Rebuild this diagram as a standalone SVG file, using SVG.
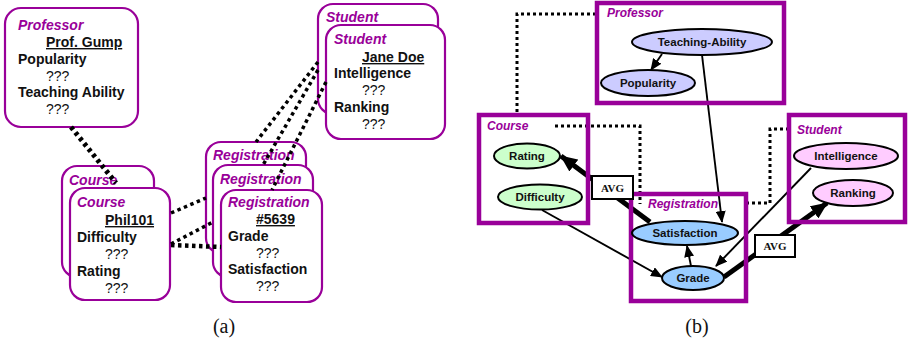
<svg xmlns="http://www.w3.org/2000/svg" width="909" height="341" viewBox="0 0 909 341">
<defs>
<style>
.box{fill:#fff;stroke:#990099;stroke-width:2.2}
.frame{fill:none;stroke:#990099;stroke-width:4.5}
.ttl{font-family:"Liberation Sans",Arial,sans-serif;font-weight:bold;font-style:italic;font-size:14px;fill:#990099}
.ttlb{font-family:"Liberation Sans",Arial,sans-serif;font-weight:bold;font-style:italic;font-size:12px;fill:#990099}
.att{font-family:"Liberation Sans",Arial,sans-serif;font-weight:bold;font-size:14px;fill:#111}
.val{font-family:"Liberation Sans",Arial,sans-serif;font-size:14px;fill:#111}
.und{text-decoration:underline}
.dot{fill:none;stroke:#000;stroke-width:3.5;stroke-dasharray:3.5 3.5}
.dotb{fill:none;stroke:#000;stroke-width:3;stroke-dasharray:3 3}
.ell{stroke:#000;stroke-width:2}
.et{font-family:"Liberation Sans",Arial,sans-serif;font-weight:bold;font-size:11.5px;fill:#111;text-anchor:middle}
.arr{fill:none;stroke:#000;stroke-width:1.9}
.thick{fill:none;stroke:#000;stroke-width:5}
.avg{fill:#fff;stroke:#000;stroke-width:2}
.avgt{font-family:"Liberation Serif","Times New Roman",serif;font-weight:bold;font-size:11px;fill:#111;text-anchor:middle}
.cap{font-family:"Liberation Serif","Times New Roman",serif;font-size:20px;fill:#111;text-anchor:middle}
</style>
<marker id="ah" markerUnits="userSpaceOnUse" markerWidth="12" markerHeight="10" refX="11" refY="5" orient="auto">
<path d="M0,0 L12,5 L0,10 z" fill="#000"/>
</marker>
<marker id="ahb" markerUnits="userSpaceOnUse" markerWidth="17" markerHeight="15" refX="16" refY="7.5" orient="auto">
<path d="M0,0 L17,7.5 L0,15 z" fill="#000"/>
</marker>
</defs>
<rect width="909" height="341" fill="#fff"/>

<!-- (a) -->
<g id="a-professor">
<rect class="box" x="5" y="8" width="133" height="119" rx="16"/>
<text class="ttl" x="18" y="30">Professor</text>
<text class="att und" x="46" y="47">Prof. Gump</text>
<text class="att" x="18" y="64">Popularity</text>
<text class="val" x="46" y="81">???</text>
<text class="att" x="18" y="97">Teaching Ability</text>
<text class="val" x="46" y="114">???</text>
</g>
<g id="a-course-back">
<rect class="box" x="62" y="166" width="92" height="111" rx="15"/>
<text class="ttl" x="69" y="185">Course</text>
</g>
<g id="a-course">
<rect class="box" x="70" y="188" width="100" height="112" rx="15"/>
<text class="ttl" x="77" y="207">Course</text>
<text class="att und" x="105" y="225">Phil101</text>
<text class="att" x="77" y="242">Difficulty</text>
<text class="val" x="105" y="259">???</text>
<text class="att" x="77" y="276">Rating</text>
<text class="val" x="105" y="293">???</text>
</g>
<g id="a-registration-back1">
<rect class="box" x="206" y="142" width="100" height="111" rx="15"/>
<text class="ttl" x="213" y="160">Registration</text>
</g>
<g id="a-registration-back2">
<rect class="box" x="213" y="165" width="100" height="112" rx="15"/>
<text class="ttl" x="220" y="184">Registration</text>
</g>
<g id="a-registration">
<rect class="box" x="221" y="190" width="101" height="112" rx="15"/>
<text class="ttl" x="228" y="207">Registration</text>
<text class="att und" x="256" y="224">#5639</text>
<text class="att" x="228" y="241">Grade</text>
<text class="val" x="256" y="258">???</text>
<text class="att" x="228" y="274">Satisfaction</text>
<text class="val" x="256" y="291">???</text>
</g>
<g id="a-student-back">
<rect class="box" x="318" y="4" width="120" height="110" rx="15"/>
<text class="ttl" x="326" y="22">Student</text>
</g>
<g id="a-student">
<rect class="box" x="326" y="25" width="119" height="114" rx="15"/>
<text class="ttl" x="334" y="44">Student</text>
<text class="att und" x="362" y="62">Jane Doe</text>
<text class="att" x="334" y="78">Intelligence</text>
<text class="val" x="362" y="95">???</text>
<text class="att" x="334" y="112">Ranking</text>
<text class="val" x="362" y="129">???</text>
</g>
<g id="a-connectors">
<line class="dot" x1="71" y1="127" x2="116" y2="183" style="stroke-width:5"/>
<line class="dot" x1="171" y1="213" x2="206" y2="198"/>
<line class="dot" x1="171" y1="244" x2="213" y2="222"/>
<line class="dot" x1="171" y1="245" x2="221" y2="247" style="stroke-width:4.5"/>
<line class="dot" x1="318" y1="62" x2="256" y2="142"/>
<line class="dot" x1="318" y1="70" x2="263" y2="165"/>
<line class="dot" x1="326" y1="82" x2="272" y2="190"/>
</g>
<text class="cap" x="224" y="333">(a)</text>

<!-- (b) -->
<g id="b-connectors">
<polyline class="dotb" points="596,14 517,14 517,116"/>
<polyline class="dotb" points="555,126 640,126 640,204"/>
<polyline class="dotb" points="789,129 770,129 770,203 747,203"/>
<line class="arr" x1="662" y1="54" x2="651" y2="70" marker-end="url(#ah)"/>
<line class="arr" x1="702" y1="55" x2="722" y2="222" marker-end="url(#ah)"/>
<line class="arr" x1="691" y1="266" x2="687" y2="246" marker-end="url(#ah)"/>
<line class="arr" x1="542" y1="210" x2="662" y2="277" marker-end="url(#ah)"/>
<line class="arr" x1="811" y1="168" x2="716" y2="266" marker-end="url(#ah)"/>
<line class="thick" x1="650" y1="222" x2="561" y2="156" marker-end="url(#ahb)"/>
<line class="thick" x1="724" y1="277" x2="827" y2="203" marker-end="url(#ahb)"/>
</g>
<g id="b-professor">
<rect class="frame" x="597" y="3" width="187" height="100"/>
<text class="ttlb" x="607" y="17">Professor</text>
</g>
<g id="b-teaching-ability">
<ellipse class="ell" cx="702" cy="42" rx="70" ry="13" fill="#ccccff"/>
<text class="et" x="702" y="46">Teaching-Ability</text>
</g>
<g id="b-popularity">
<ellipse class="ell" cx="648" cy="83" rx="47" ry="13" fill="#ccccff"/>
<text class="et" x="648" y="87">Popularity</text>
</g>
<g id="b-course">
<rect class="frame" x="479" y="115" width="109" height="108"/>
<text class="ttlb" x="487" y="130">Course</text>
</g>
<g id="b-rating">
<ellipse class="ell" cx="527" cy="156" rx="33" ry="12.5" fill="#ccffcc"/>
<text class="et" x="527" y="160">Rating</text>
</g>
<g id="b-difficulty">
<ellipse class="ell" cx="540" cy="197" rx="42" ry="12.5" fill="#ccffcc"/>
<text class="et" x="540" y="201">Difficulty</text>
</g>
<g id="b-registration">
<rect class="frame" x="631" y="194" width="115" height="107"/>
<text class="ttlb" x="648" y="208">Registration</text>
</g>
<g id="b-satisfaction">
<ellipse class="ell" cx="685" cy="233" rx="53" ry="12" fill="#99ccff"/>
<text class="et" x="685" y="237">Satisfaction</text>
</g>
<g id="b-grade">
<ellipse class="ell" cx="693" cy="278" rx="31" ry="12" fill="#99ccff"/>
<text class="et" x="693" y="282">Grade</text>
</g>
<g id="b-student">
<rect class="frame" x="789" y="115" width="116" height="107"/>
<text class="ttlb" x="797" y="134">Student</text>
</g>
<g id="b-intelligence">
<ellipse class="ell" cx="846" cy="156" rx="52" ry="13" fill="#ffccff"/>
<text class="et" x="846" y="160">Intelligence</text>
</g>
<g id="b-ranking">
<ellipse class="ell" cx="853" cy="193" rx="40" ry="13" fill="#ffccff"/>
<text class="et" x="853" y="197">Ranking</text>
</g>
<g id="b-avg1">
<rect class="avg" x="592" y="176" width="41" height="23"/>
<text class="avgt" x="612.5" y="191.5">AVG</text>
</g>
<g id="b-avg2">
<rect class="avg" x="755" y="235" width="40" height="22"/>
<text class="avgt" x="775" y="250">AVG</text>
</g>
<text class="cap" x="697" y="333">(b)</text>
</svg>
